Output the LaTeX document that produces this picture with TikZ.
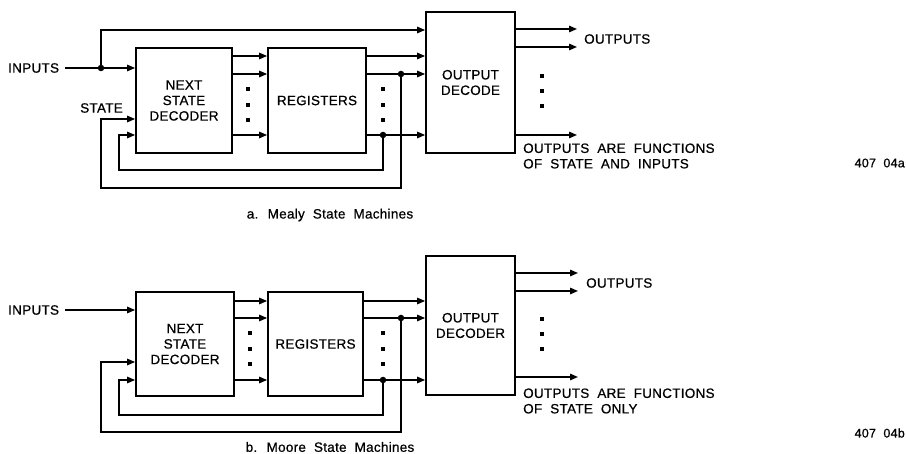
\documentclass[tikz,border=0pt]{standalone}
\usepackage{fontspec}
\setmainfont{Liberation Sans}[LetterSpace=2,WordSpace=2,FakeBold=0.6]
\usetikzlibrary{arrows.meta}

\tikzset{
	blk/.style={draw, line width=1.8pt, align=center, inner sep=0pt},
	wire/.style={line width=1.4pt},
	sig/.style={wire, -{Triangle[length=8pt,width=6.5pt]}},
	jdot/.style={circle, fill, inner sep=0pt, minimum size=6.5pt},
	vdot/.style={rectangle, fill, inner sep=0pt, minimum size=4.5pt},
	txt/.style={inner sep=0pt},
	tagtxt/.style={txt, anchor=east, font=\fontsize{12.5}{15}\selectfont},
}

\begin{document}
\begin{tikzpicture}[x=1pt, y=-1pt, font=\fontsize{13.5}{15.5}\selectfont]
	\useasboundingbox (0,0) rectangle (906,454);
	% a. mealy
	\node[blk, minimum width=96pt, minimum height=105pt] (nsdA) at (184,100.5) {NEXT\\STATE\\DECODER};
	\node[blk, minimum width=98pt, minimum height=105pt] (regA) at (317,100.5) {REGISTERS};
	\node[blk, minimum width=89pt, minimum height=141pt] (odA) at (470.5,82.5) {OUTPUT\\DECODE};
	\node[txt, anchor=west] (inLblA) at (8,68) {INPUTS};
	\node[txt, anchor=east] (stLblA) at (123,108) {STATE};
	\coordinate (inA) at (65,68);
	\coordinate (byA) at (0,30);
	\coordinate (rA1) at (0,56);
	\coordinate (rA2) at (0,74);
	\coordinate (rA3) at (0,135);
	\coordinate (stA) at (0,119);
	\coordinate (cA1) at (119,170);
	\coordinate (cA2) at (101,188);
	\coordinate (oA1) at (577,29);
	\coordinate (oA2) at (577,47);
	\coordinate (oA3) at (577,135);
	\node[jdot] (jA1) at (101,68) {};
	\node[jdot] (jA2) at (401,74) {};
	\node[jdot] (jA3) at (383,135) {};
	\draw[sig] (inA) -- (nsdA.west |- inA);
	\draw[sig] (jA1.center) |- (odA.west |- byA);
	\foreach \r in {rA1,rA2,rA3} {
		\draw[sig] (nsdA.east |- \r) -- (regA.west |- \r);
		\draw[sig] (regA.east |- \r) -- (odA.west |- \r);
	}
	\draw[sig] (jA3.center) |- (cA1) |- (nsdA.west |- rA3);
	\draw[sig] (jA2.center) |- (cA2) |- (nsdA.west |- stA);
	\foreach \o in {oA1,oA2,oA3}
		\draw[sig] (odA.east |- \o) -- (\o);
	\foreach \y in {89,105,120} {
		\node[vdot] (dA1\y) at (248,\y) {};
		\node[vdot] (dA2\y) at (383,\y) {};
	}
	\foreach \y in {76,91,106}
		\node[vdot] (dA3\y) at (542,\y) {};
	\node[txt, anchor=west] (outLblA) at (584,39) {OUTPUTS};
	\node[txt, anchor=west, align=left] (fnA) at (523,156) {OUTPUTS ARE FUNCTIONS\\OF STATE AND INPUTS};
	\node[tagtxt] (tagA) at (905,163) {407 04a};
	\node[txt] (capA) at (330,215) {a. Mealy State Machines};
	% b. moore
	\node[blk, minimum width=98pt, minimum height=104pt] (nsdB) at (185,344) {NEXT\\STATE\\DECODER};
	\node[blk, minimum width=95pt, minimum height=104pt] (regB) at (315.5,344) {REGISTERS};
	\node[blk, minimum width=89pt, minimum height=139pt] (odB) at (470.5,325.5) {OUTPUT\\DECODER};
	\node[txt, anchor=west] (inLblB) at (8,310) {INPUTS};
	\coordinate (inB) at (65,310);
	\coordinate (rB1) at (0,301);
	\coordinate (rB2) at (0,318);
	\coordinate (rB3) at (0,380);
	\coordinate (stB) at (0,362);
	\coordinate (cB1) at (119,415);
	\coordinate (cB2) at (101,432);
	\coordinate (oB1) at (578,273);
	\coordinate (oB2) at (578,291);
	\coordinate (oB3) at (578,377);
	\node[jdot] (jB2) at (401,318) {};
	\node[jdot] (jB3) at (383,380) {};
	\draw[sig] (inB) -- (nsdB.west |- inB);
	\foreach \r in {rB1,rB2,rB3} {
		\draw[sig] (nsdB.east |- \r) -- (regB.west |- \r);
		\draw[sig] (regB.east |- \r) -- (odB.west |- \r);
	}
	\draw[sig] (jB3.center) |- (cB1) |- (nsdB.west |- rB3);
	\draw[sig] (jB2.center) |- (cB2) |- (nsdB.west |- stB);
	\foreach \o in {oB1,oB2,oB3}
		\draw[sig] (odB.east |- \o) -- (\o);
	\foreach \y in {333,349,364} {
		\node[vdot] (dB1\y) at (250,\y) {};
		\node[vdot] (dB2\y) at (383,\y) {};
	}
	\foreach \y in {319,334,349}
		\node[vdot] (dB3\y) at (542,\y) {};
	\node[txt, anchor=west] (outLblB) at (586,283) {OUTPUTS};
	\node[txt, anchor=west, align=left] (fnB) at (523,401) {OUTPUTS ARE FUNCTIONS\\OF STATE ONLY};
	\node[tagtxt] (tagB) at (905,433) {407 04b};
	\node[txt] (capB) at (330,447) {b. Moore State Machines};
\end{tikzpicture}
\end{document}
